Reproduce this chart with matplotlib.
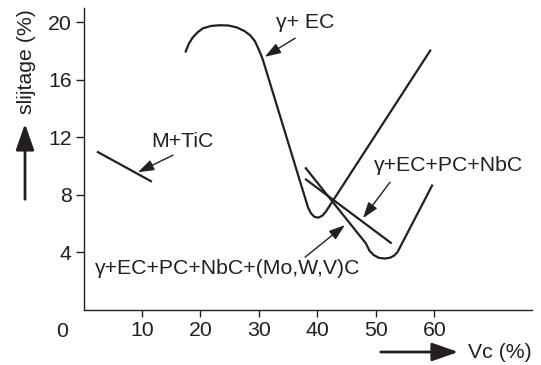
import matplotlib
matplotlib.use('Agg')
import matplotlib.pyplot as plt
from matplotlib.patches import FancyArrowPatch

plt.rcParams['font.family'] = ['Liberation Sans', 'DejaVu Sans']

INK = '#231f20'
W, H = 541, 365

# Wear (slijtage, %) against carbide volume fraction Vc (%)
mtic_x = [2.3, 11.7]
mtic_y = [11.0, 8.9]

ec_x = [17.4, 18.0, 18.7, 19.5, 20.4, 21.8, 23.3, 24.8, 26.2, 27.5, 28.5,
        29.3, 29.8, 30.3, 30.7, 38.4, 38.9, 39.5, 40.2, 40.9, 41.5, 59.4]
ec_y = [17.9, 18.5, 18.96, 19.3, 19.58, 19.75, 19.8, 19.78, 19.65, 19.4, 19.1,
        18.7, 18.26, 17.8, 17.36, 7.1, 6.7, 6.45, 6.4, 6.55, 6.85, 18.1]

nb_x = [37.9, 52.7]
nb_y = [9.1, 4.6]

mo_x = [37.9, 48.3, 48.9, 49.6, 50.5, 51.5, 52.4, 53.1, 53.7, 59.7]
mo_y = [9.9, 4.6, 4.1, 3.8, 3.6, 3.55, 3.6, 3.75, 4.0, 8.7]

x_ticks = [10, 20, 30, 40, 50, 60]
y_ticks = [4, 8, 12, 16, 20]

labels = ['M+TiC', 'γ+ EC', 'γ+EC+PC+NbC', 'γ+EC+PC+NbC+(Mo,W,V)C']
label_xy = [(17.0, 11.7), (37.9, 20.0), (62.5, 10.05), (24.7, 2.89)]
arrow_from = [(15.3, 10.75), (36.2, 18.9), (52.4, 8.86), (37.9, 3.65)]
arrow_to = [(9.3, 9.56), (31.0, 17.6), (47.8, 6.36), (44.7, 5.88)]

FS = 15.3

fig = plt.figure(figsize=(W / 100, H / 100), dpi=100)
ax = fig.add_axes([83.5 / W, 1 - 309.5 / H, (532 - 83.5) / W, (309.5 - 8) / H])

for xs, ys in [(mtic_x, mtic_y), (ec_x, ec_y), (nb_x, nb_y), (mo_x, mo_y)]:
    ax.plot(xs, ys, color=INK, lw=1.6, solid_joinstyle='round',
            solid_capstyle='butt')

ax.set_xlim(0, 76.7)
ax.set_ylim(0, 21)
for s in ['top', 'right']:
    ax.spines[s].set_visible(False)
for s in ['left', 'bottom']:
    ax.spines[s].set_color(INK)
    ax.spines[s].set_linewidth(1.0)

ax.set_xticks(x_ticks)
ax.set_xticklabels([str(v) for v in x_ticks])
ax.set_yticks(y_ticks)
ax.set_yticklabels([str(v) for v in y_ticks])
ax.tick_params(axis='x', length=5, width=1.0, color=INK, labelcolor=INK,
               labelsize=FS, pad=3)
ax.tick_params(axis='y', length=6, width=1.0, color=INK, labelcolor=INK,
               labelsize=FS, pad=2.5)

# shared origin label
ax.text(-3.7, -1.5, '0', ha='center', va='center', fontsize=FS, color=INK,
        clip_on=False)

for txt, xy, a0, a1 in zip(labels, label_xy, arrow_from, arrow_to):
    ax.text(xy[0], xy[1], txt, ha='center', va='center', fontsize=FS,
            color=INK)
    ax.annotate('', xy=a1, xytext=a0,
                arrowprops=dict(arrowstyle='-|>,head_length=0.65,head_width=0.22',
                                color=INK, lw=1.0, mutation_scale=15,
                                shrinkA=0, shrinkB=0))

# axis titles with direction arrows
fig.text(26 / W, 1 - 61.5 / H, 'slijtage (%)', rotation=90, ha='center',
         va='center', fontsize=FS, color=INK)
fig.text(500 / W, 1 - 352 / H, 'Vc (%)', ha='center', va='center',
         fontsize=FS, color=INK)
big_head = '-|>,head_length=0.8,head_width=0.28'
fig.add_artist(FancyArrowPatch(
    (25 / W, 1 - 202 / H), (25 / W, 1 - 121 / H), transform=fig.transFigure,
    arrowstyle=big_head, mutation_scale=20, lw=2.0, color=INK))
fig.add_artist(FancyArrowPatch(
    (378 / W, 1 - 352 / H), (461 / W, 1 - 352 / H), transform=fig.transFigure,
    arrowstyle=big_head, mutation_scale=20, lw=2.0, color=INK))

fig.savefig('out.png', dpi=100)
